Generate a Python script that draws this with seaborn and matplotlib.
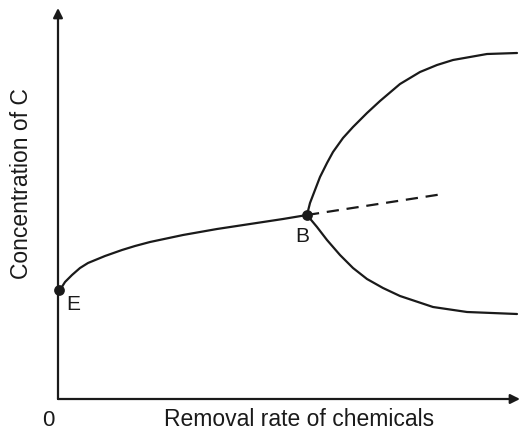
import numpy as np
import pandas as pd
import matplotlib
matplotlib.use("Agg")
import matplotlib.pyplot as plt
import seaborn as sns

# Schematic values (x: removal rate, y: concentration of C)
# Branch from E up to the bifurcation point B
eb_x = [2, 7, 14, 22, 30, 47, 64, 77, 92, 125, 159, 192, 225, 249]
eb_y = [109, 117, 124, 131, 136, 143, 149, 153, 157, 164, 170, 175, 180, 184]

# Upper stable branch after B
upper_x = [249, 252, 257, 262, 269, 275, 285, 295, 309, 322, 342, 362,
           379, 395, 412, 429, 459]
upper_y = [184, 196, 209, 222, 236, 247, 261, 272, 286, 298, 315, 327,
           334, 339, 342, 345, 346]

# Lower stable branch after B
lower_x = [249, 259, 269, 282, 295, 309, 325, 342, 375, 409, 459]
lower_y = [184, 172, 159, 144, 131, 120, 111, 103, 92, 87, 85]

# Unstable continuation (dashed)
dash_x = [249, 385]
dash_y = [184, 205]

points = ["E", "B"]
point_x = [1, 249]
point_y = [109, 184]

x_label = "Removal rate of chemicals"
y_label = "Concentration of C"

sns.set_style("white")
plt.rcParams["font.family"] = ["Liberation Sans", "DejaVu Sans"]
ink = "#1a1a1a"

fig = plt.figure(figsize=(5.23, 4.34), dpi=100)
ax = fig.add_axes([58 / 523, (434 - 399) / 434, (520 - 58) / 523, (399 - 8) / 434])
ax.set_xlim(0, 462)
ax.set_ylim(0, 391)

lw = 1.6
for xs, ys in [(eb_x, eb_y), (upper_x, upper_y), (lower_x, lower_y)]:
    df = pd.DataFrame({"x": xs, "y": ys})
    sns.lineplot(data=df, x="x", y="y", ax=ax, color=ink, linewidth=lw,
                 estimator=None, sort=False, solid_joinstyle="round")

df_dash = pd.DataFrame({"x": dash_x, "y": dash_y})
sns.lineplot(data=df_dash, x="x", y="y", ax=ax, color=ink, linewidth=lw,
             estimator=None, sort=False, linestyle=(0, (5.5, 3.5)))

df_pts = pd.DataFrame({"x": point_x, "y": point_y, "name": points})
sns.scatterplot(data=df_pts, x="x", y="y", ax=ax, color=ink, s=60,
                edgecolor=ink, linewidth=0, zorder=5, clip_on=False)

# point labels
ax.text(point_x[0] + 14, point_y[0] - 14, points[0], fontsize=15, color=ink,
        ha="center", va="center")
ax.text(point_x[1] - 5, point_y[1] - 22, points[1], fontsize=15, color=ink,
        ha="center", va="center")

# axes drawn as arrows
for s in ax.spines.values():
    s.set_visible(False)
ax.set_xticks([])
ax.set_yticks([])
ax.set_xlabel("")
ax.set_ylabel("")
arrow = dict(arrowstyle="-|>", color=ink, lw=1.6, mutation_scale=14,
             shrinkA=0, shrinkB=0)
ax.annotate("", xy=(1, 0), xytext=(0, 0), xycoords="axes fraction",
            arrowprops=arrow, annotation_clip=False)
ax.annotate("", xy=(0, 1), xytext=(0, 0), xycoords="axes fraction",
            arrowprops=arrow, annotation_clip=False)

ax.text(-10, -21, "0", fontsize=16, color=ink, ha="center", va="center", clip_on=False)
ax.text(241, -21, x_label, fontsize=16.5, color=ink, ha="center", va="center", clip_on=False)
ax.text(-36, 215, y_label, fontsize=16.5, color=ink, ha="center", va="center",
        rotation=90, clip_on=False)

fig.savefig("out.png", dpi=100)
